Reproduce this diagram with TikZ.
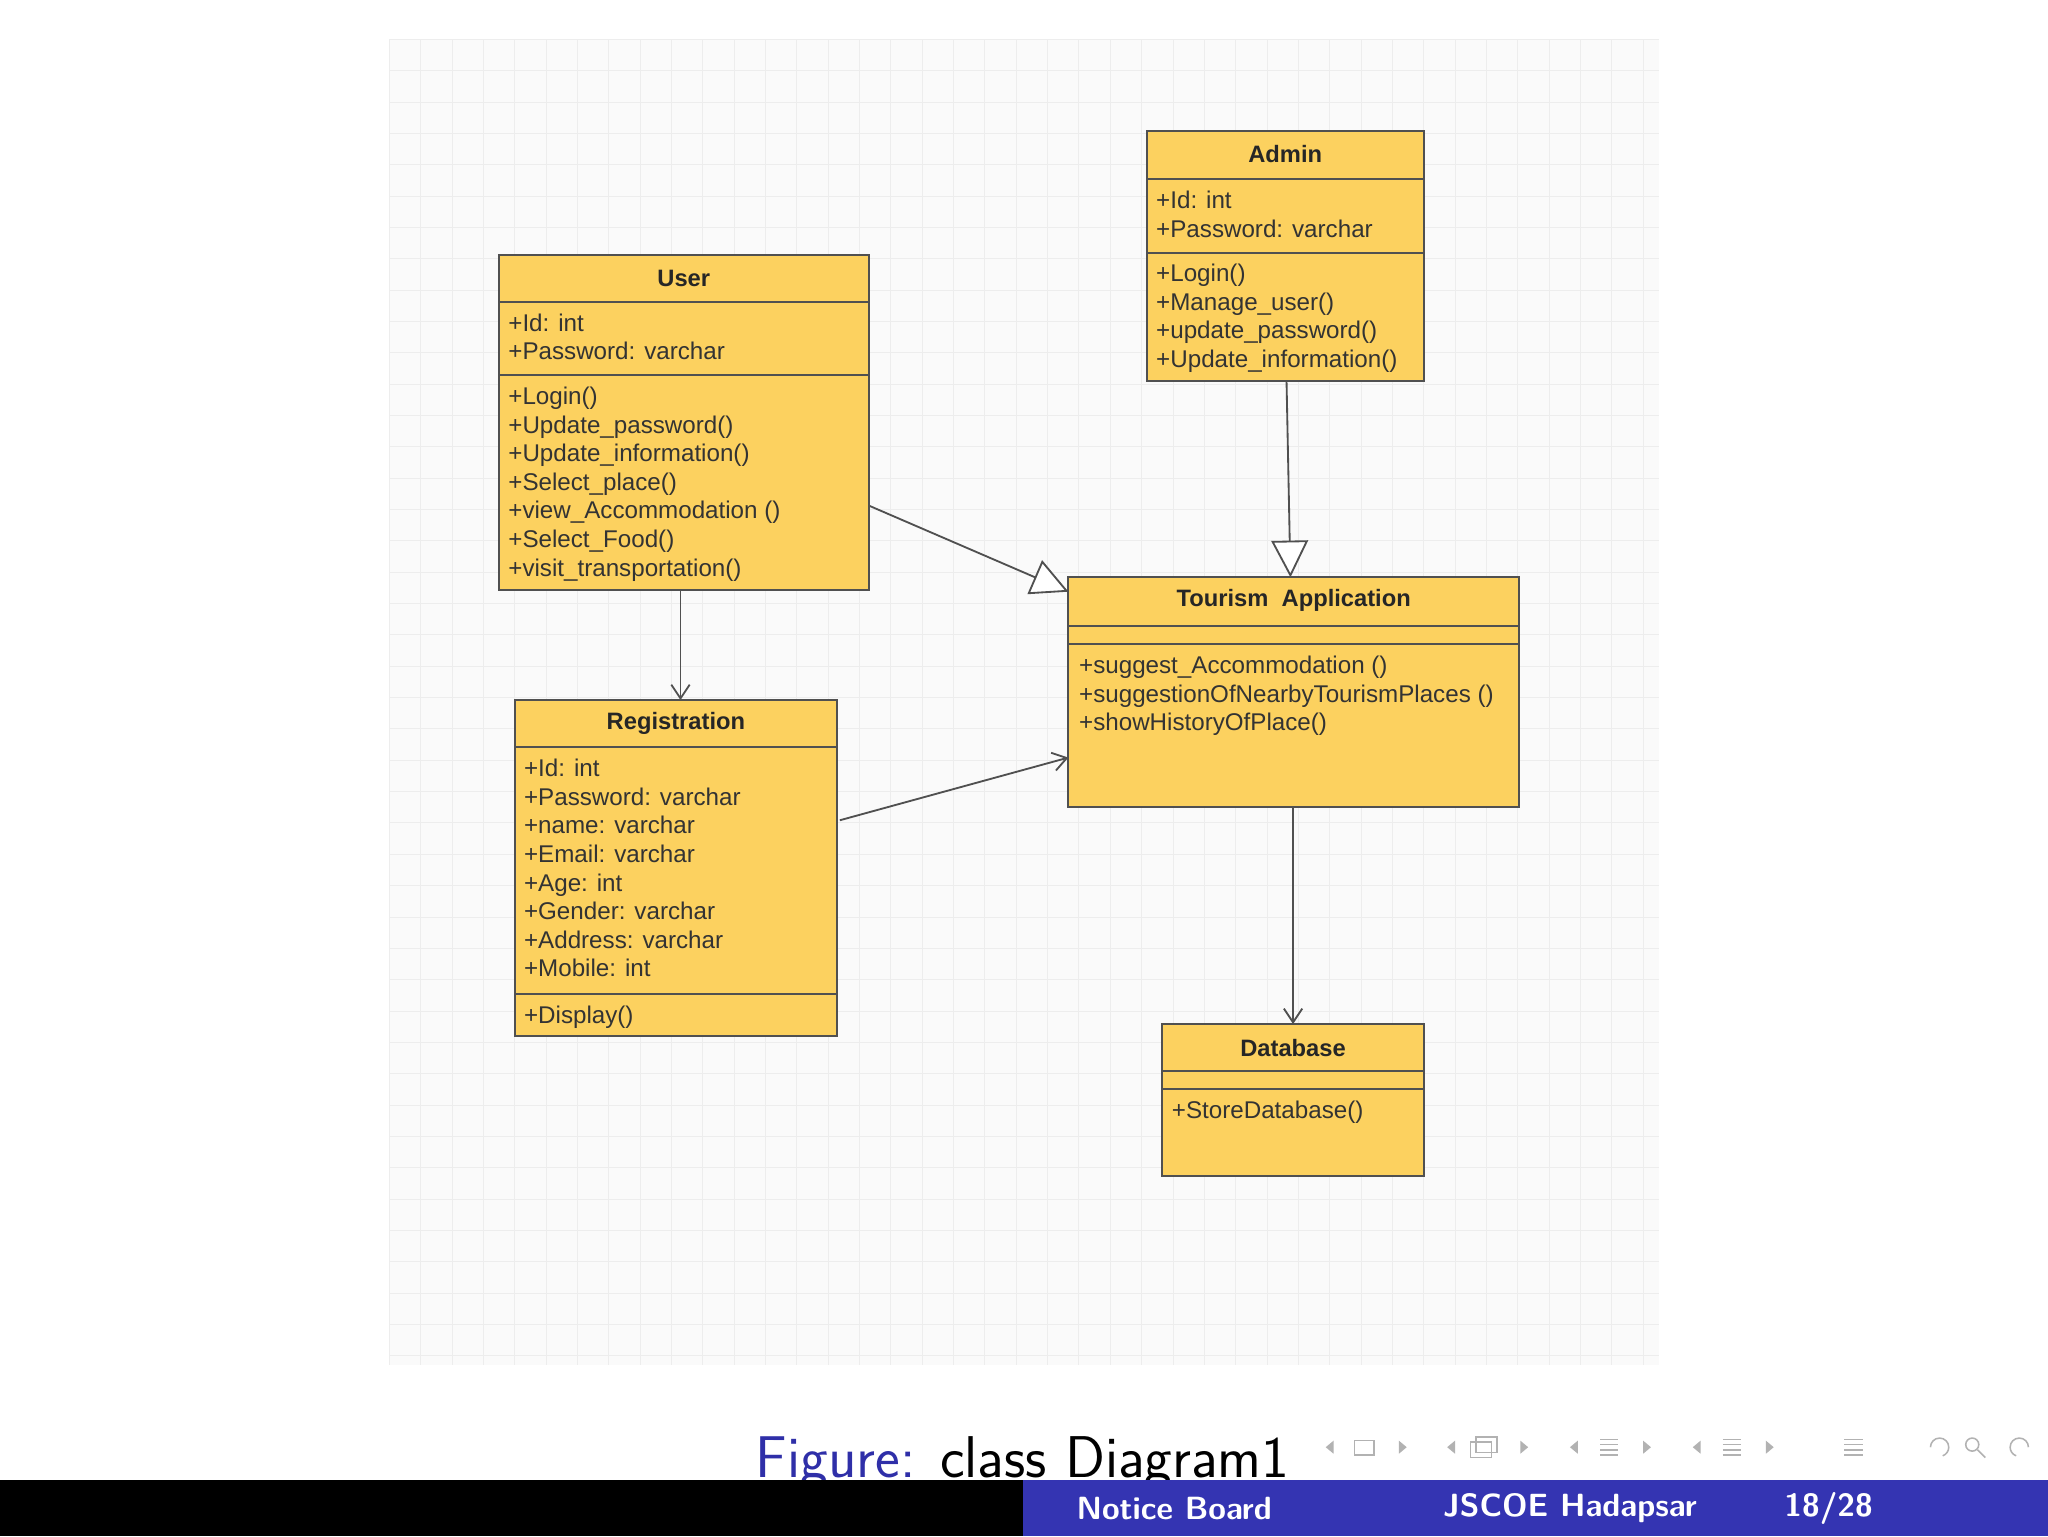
\documentclass[tikz,border=0pt]{standalone}
\usepackage{fontspec}
\setmainfont{Liberation Sans}
\usetikzlibrary{arrows.meta}
\definecolor{boxy}{HTML}{FCD15F}
\definecolor{edge}{HTML}{505050}
\definecolor{bblue}{HTML}{3434B2}
\definecolor{cblue}{HTML}{2F2FA8}
\tikzset{
  comp/.style={draw=edge,line width=1.3pt,fill=boxy},
  ctext/.style={anchor=north west,inner sep=0pt,align=left,text=black!80,font=\fontsize{15.8}{18.7}\selectfont},
  htext/.style={inner sep=0pt,text=black!85,font=\fontsize{15.5}{18}\selectfont\bfseries},
  stick/.style={draw=edge,line width=1.2pt,-{Straight Barb[length=9pt,width=12pt]}},
  gen/.style={draw=edge,line width=1.2pt,-{Triangle[open,length=24pt,width=24pt,fill=white]}}
}
\begin{document}
\begin{tikzpicture}[x=0.3mm,y=-0.3mm]
\useasboundingbox (0,0) rectangle (1568,1176);
\fill[white] (0,0) rectangle (1568,1176);
% grid
\fill[black!2] (298,30) rectangle (1270,1045);
\foreach \x in {298,322,...,1270}{\draw[black!7,line width=0.5pt] (\x,30) -- (\x,1045);}
\foreach \y in {30,54,...,1045}{\draw[black!7,line width=0.5pt] (298,\y) -- (1270,\y);}
% User
\draw[comp] (382,195) rectangle (665,231);
\draw[comp] (382,231) rectangle (665,287);
\draw[comp] (382,287) rectangle (665,452);
\node[htext] (userh) at (523.5,213) {User};
\node[ctext] (usera) at (389,240) {+Id: int\\+Password: varchar};
\node[ctext] (userm) at (389,296) {+Login()\\+Update\_password()\\+Update\_information()\\+Select\_place()\\+view\_Accommodation ()\\+Select\_Food()\\+visit\_transportation()};
\coordinate (userbot) at (521,452);
\coordinate (userright) at (665,387);
% Admin
\draw[comp] (878,100) rectangle (1090,137);
\draw[comp] (878,137) rectangle (1090,194);
\draw[comp] (878,194) rectangle (1090,292);
\node[htext] (adminh) at (984,118) {Admin};
\node[ctext] (admina) at (885,146) {+Id: int\\+Password: varchar};
\node[ctext] (adminm) at (885,202) {+Login()\\+Manage\_user()\\+update\_password()\\+Update\_information()};
\coordinate (adminbot) at (985,292);
% Tourism
\draw[comp] (818,442) rectangle (1163,479);
\draw[comp] (818,479) rectangle (1163,493);
\draw[comp] (818,493) rectangle (1163,618);
\node[htext] (tourh) at (990.5,460) {Tourism\ \ Application};
\node[ctext] (tourm) at (826,502) {+suggest\_Accommodation ()\\+suggestionOfNearbyTourismPlaces ()\\+showHistoryOfPlace()};
\coordinate (tourtop) at (988,442);
\coordinate (tourleft) at (818,453);
\coordinate (tourleft2) at (818,580);
\coordinate (tourbot) at (990,618);
% Registration
\draw[comp] (394,536) rectangle (641,572);
\draw[comp] (394,572) rectangle (641,761);
\draw[comp] (394,761) rectangle (641,793);
\node[htext] (regh) at (517.5,554) {Registration};
\node[ctext] (rega) at (401,581) {+Id: int\\+Password: varchar\\+name: varchar\\+Email: varchar\\+Age: int\\+Gender: varchar\\+Address: varchar\\+Mobile: int};
\node[ctext] (regm) at (401,770) {+Display()};
\coordinate (regtop) at (521,536);
\coordinate (regright) at (643,628);
% Database
\draw[comp] (890,784) rectangle (1090,820);
\draw[comp] (890,820) rectangle (1090,834);
\draw[comp] (890,834) rectangle (1090,900);
\node[htext] (dbh) at (990,802) {Database};
\node[ctext] (dbm) at (897,843) {+StoreDatabase()};
\coordinate (dbtop) at (990,784);
% connectors
\draw[gen] (userright) -- (tourleft);
\draw[gen] (adminbot) -- (tourtop);
\draw[stick] (userbot) -- (regtop);
\draw[stick] (regright) -- (tourleft2);
\draw[stick] (tourbot) -- (dbtop);
% caption
\node[inner sep=0pt,font=\sffamily\fontsize{38.5}{40}\selectfont] (cap) at (783,1120) {\textcolor{cblue}{Figure:} class Diagram1};
% footer
\fill[black] (0,1133) rectangle (783,1176);
\fill[bblue] (783,1133) rectangle (1568,1176);
\node[text=white,font=\sffamily\bfseries\fontsize{21}{24}\selectfont] (f1) at (899,1155) {Notice Board};
\node[text=white,font=\sffamily\bfseries\fontsize{21}{24}\selectfont] (f2) at (1202,1155) {JSCOE Hadapsar};
\node[text=white,font=\sffamily\bfseries\fontsize{21}{24}\selectfont] (f3) at (1400,1155) {18/28};
% nav symbols
\begin{scope}[black!30,line width=1pt]
\foreach \x in {1015,1108,1202,1296}{\fill (\x,1108) -- ++(6,-5) -- ++(0,10) -- cycle;}
\foreach \x in {1077,1170,1264,1358}{\fill (\x,1108) -- ++(-6,-5) -- ++(0,10) -- cycle;}
\draw (1037,1103) rectangle (1052,1114);
\draw (1126,1104) rectangle (1142,1116); \draw (1130,1100) rectangle (1146,1112);
\foreach \x in {1232,1326,1419}{\foreach \dy in {-6,-2,2,6}{\draw (\x-7,1108+\dy) -- (\x+7,1108+\dy);}}
\draw (1478,1108) arc (180:430:7);
\draw (1510,1106) circle (5); \draw (1514,1110) -- (1520,1116);
\draw (1553,1108) arc (0:-250:7);
\end{scope}
\end{tikzpicture}
\end{document}
